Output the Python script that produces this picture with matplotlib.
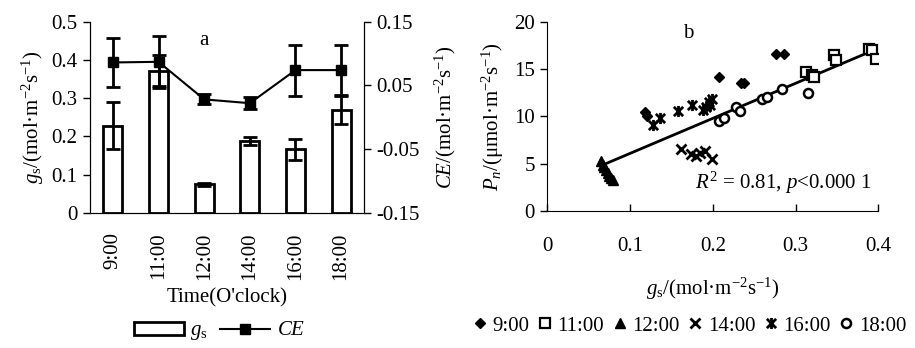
import matplotlib
matplotlib.use('Agg')
import matplotlib.pyplot as plt
import numpy as np
from matplotlib.path import Path
from matplotlib.patches import Patch
from matplotlib.lines import Line2D

plt.rcParams['font.family'] = ['Liberation Serif', 'DejaVu Serif']
plt.rcParams['mathtext.fontset'] = 'custom'
plt.rcParams['mathtext.rm'] = 'Liberation Serif'
plt.rcParams['mathtext.it'] = 'Liberation Serif:italic'
plt.rcParams['axes.unicode_minus'] = False
plt.rcParams['font.size'] = 15

# Panel a: diurnal gs (bars) and CE (line)
times = ['9:00', '11:00', '12:00', '14:00', '16:00', '18:00']
gs_mean = [0.228, 0.372, 0.074, 0.188, 0.166, 0.269]
gs_err = [0.062, 0.040, 0.003, 0.010, 0.027, 0.038]
ce_mean = [0.086, 0.087, 0.028, 0.022, 0.074, 0.074]
ce_err = [0.039, 0.041, 0.008, 0.009, 0.040, 0.040]

# Panel b: Pn vs gs by time of day
gs_9 = [0.118, 0.120, 0.208, 0.234, 0.238, 0.276, 0.286]
pn_9 = [10.5, 10.0, 14.2, 13.5, 13.5, 16.6, 16.6]
gs_11 = [0.313, 0.320, 0.322, 0.347, 0.349, 0.389, 0.392, 0.397]
pn_11 = [14.7, 14.4, 14.2, 16.5, 16.0, 17.1, 17.0, 16.1]
gs_12 = [0.065, 0.067, 0.069, 0.071, 0.073, 0.075, 0.077, 0.079]
pn_12 = [5.3, 4.9, 4.6, 4.3, 4.0, 3.7, 3.5, 3.3]
gs_14 = [0.162, 0.174, 0.180, 0.185, 0.190, 0.199]
pn_14 = [6.6, 6.0, 5.8, 6.1, 6.3, 5.5]
gs_16 = [0.128, 0.136, 0.158, 0.175, 0.188, 0.192, 0.195, 0.199, 0.197]
pn_16 = [9.1, 9.8, 10.6, 11.2, 10.7, 11.0, 11.5, 11.8, 11.2]
gs_18 = [0.207, 0.214, 0.228, 0.233, 0.259, 0.265, 0.284, 0.315]
pn_18 = [9.55, 9.8, 11.0, 10.6, 11.8, 12.0, 12.85, 12.45]
fit_gs = [0.072, 0.392]
fit_pn = [5.05, 16.9]

fig = plt.figure(figsize=(9.15, 3.48), dpi=100)

# ---- panel a ----
ax1 = fig.add_axes([0.0984, 0.3888, 0.2994, 0.5488])
x = np.arange(len(times))
ax1.bar(x, gs_mean, 0.42, color='white', edgecolor='black', linewidth=2)
ax1.errorbar(x, gs_mean, yerr=gs_err, fmt='none', ecolor='black',
             elinewidth=2, capsize=5, capthick=2)
ax1.set_xlim(-0.5, 5.5)
ax1.set_ylim(0, 0.5)
ax1.set_yticks([0, 0.1, 0.2, 0.3, 0.4, 0.5])
ax1.set_yticklabels(['0', '0.1', '0.2', '0.3', '0.4', '0.5'])
ax1.set_xticks(x)
ax1.set_xticklabels(times, rotation=90)
ax1.tick_params(axis='x', length=0, pad=14)
ax1.tick_params(axis='y', direction='out', length=5, width=1, pad=4)
ax1.spines['top'].set_visible(False)
ax1.set_xlabel('Time(O\'clock)', labelpad=6)
ax1.set_ylabel('$g_{\\rm s}$/(mol·m$^{-2}$s$^{-1}$)', labelpad=4)
ax1.text(2.0, 0.45, 'a', ha='center', va='center')

ax2 = ax1.twinx()
ax2.errorbar(x, ce_mean, yerr=ce_err, color='black', marker='s', markersize=7,
             linewidth=1.5, elinewidth=2, capsize=5, capthick=2)
ax2.set_ylim(-0.15, 0.15)
ax2.set_yticks([-0.15, -0.05, 0.05, 0.15])
ax2.set_yticklabels(['-0.15', '-0.05', '0.05', '0.15'])
ax2.tick_params(axis='y', direction='out', length=5, width=1, pad=4)
ax2.spines['top'].set_visible(False)
ax2.set_ylabel('$CE$/(mol·m$^{-2}$s$^{-1}$)', labelpad=9)

leg_a = [Patch(facecolor='white', edgecolor='black', linewidth=2),
         Line2D([], [], color='black', marker='s', markersize=7, linewidth=1.5)]
fig.legend(leg_a, ['$g_{\\rm s}$', '$CE$'], loc='center', bbox_to_anchor=(0.24, 0.046),
           ncol=2, frameon=False, handlelength=2.4, handleheight=0.6,
           handletextpad=0.3, columnspacing=0.6)

# ---- panel b ----
star = Path([(-1, -1), (1, 1), (-1, 1), (1, -1), (0, -1.2), (0, 1.2)],
            [Path.MOVETO, Path.LINETO, Path.MOVETO, Path.LINETO, Path.MOVETO, Path.LINETO])

ax3 = fig.add_axes([0.5982, 0.3937, 0.3617, 0.5439])
ax3.plot(fit_gs, fit_pn, color='black', linewidth=2, zorder=3)
kw = dict(linestyle='none', color='black', zorder=4)
h9, = ax3.plot(gs_9, pn_9, marker='D', markersize=5.5, **kw)
h11, = ax3.plot(gs_11, pn_11, marker='s', markersize=6.5, markerfacecolor='white',
                markeredgewidth=1.6, **kw)
h12, = ax3.plot(gs_12, pn_12, marker='^', markersize=7, **kw)
h14, = ax3.plot(gs_14, pn_14, marker='x', markersize=7, markeredgewidth=2, **kw)
h16, = ax3.plot(gs_16, pn_16, marker=star, markersize=8, markeredgewidth=2, **kw)
h18, = ax3.plot(gs_18, pn_18, marker='o', markersize=6.5, markerfacecolor='white',
                markeredgewidth=1.8, **kw)
ax3.set_xlim(0, 0.4)
ax3.set_ylim(0, 20)
ax3.set_xticks([0, 0.1, 0.2, 0.3, 0.4])
ax3.set_xticklabels(['0', '0.1', '0.2', '0.3', '0.4'])
ax3.set_yticks([0, 5, 10, 15, 20])
ax3.tick_params(axis='x', direction='in', length=5, width=1, pad=19)
ax3.tick_params(axis='y', direction='out', length=5, width=1, pad=4)
ax3.spines['top'].set_visible(False)
ax3.spines['right'].set_visible(False)
ax3.set_xlabel('$g_{\\rm s}$/(mol·m$^{-2}$s$^{-1}$)', labelpad=14)
ax3.set_ylabel('$P_n$/(μmol·m$^{-2}$s$^{-1}$)', labelpad=6)
ax3.text(0.17, 18.8, 'b', ha='center', va='center')
ax3.text(0.392, 3.0, '$R^{2}$ = 0.81, $p$<0.000 1', ha='right', va='center')

fig.legend([h9, h11, h12, h14, h16, h18], times, loc='center',
           bbox_to_anchor=(0.754, 0.064), ncol=6, frameon=False,
           handlelength=0.6, handletextpad=0.3, columnspacing=0.45,
           borderaxespad=0)

fig.savefig('out.png', dpi=100)
